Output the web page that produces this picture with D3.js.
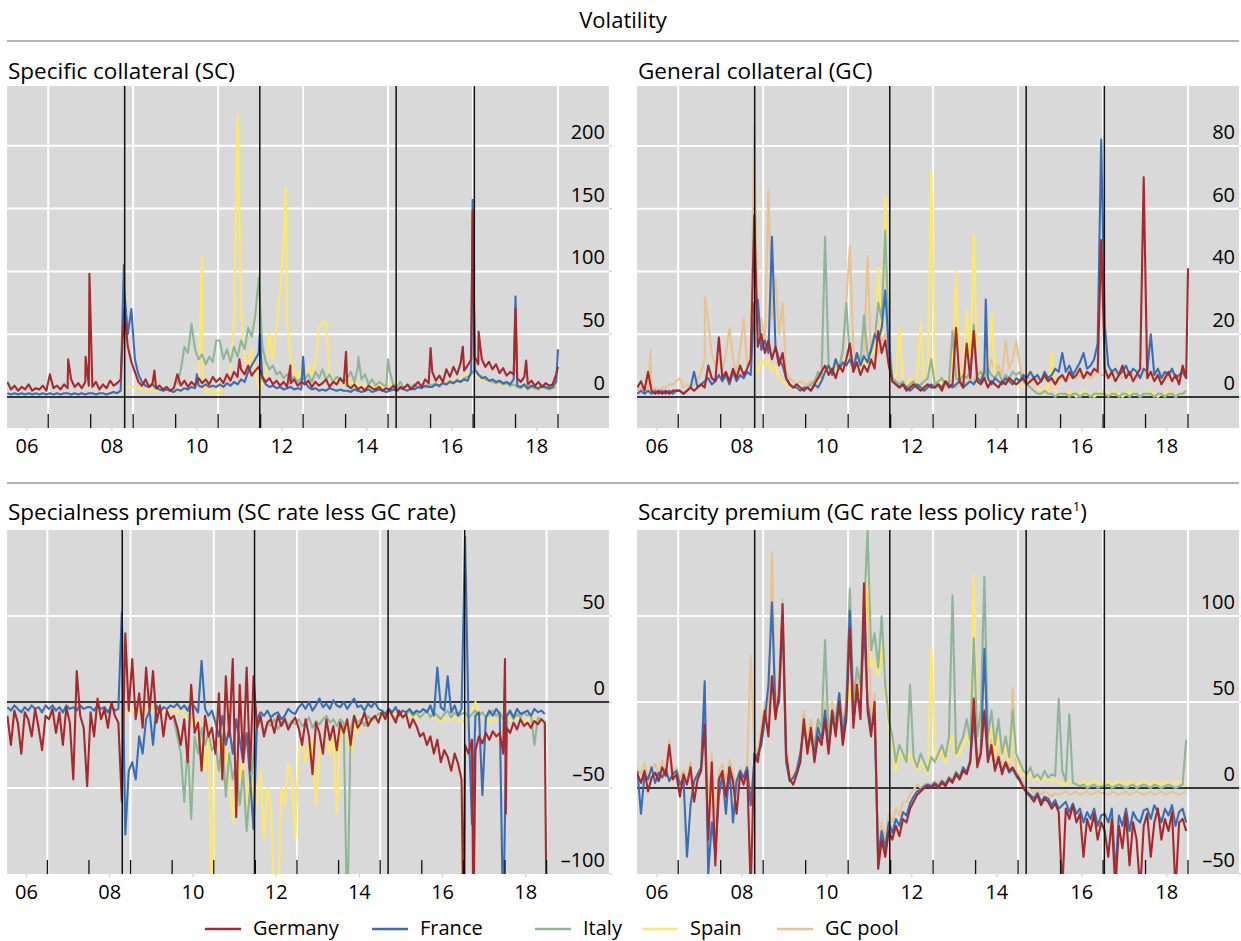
<!DOCTYPE html>
<html>
<head>
<meta charset="utf-8">
<script src="https://cdn.jsdelivr.net/npm/d3@7"></script>
<style>
body { margin: 0; background: #fff; }
svg text { font-family: "Open Sans", "Noto Sans", sans-serif; fill: #000; }
</style>
</head>
<body>
<svg id="chart" width="1241" height="941"></svg>
<script>
// monthly observations, first value at START, one value per month
var START = 2005.54, STEP = 1 / 12;

var countries = ["Germany", "France", "Italy", "Spain", "GC pool"];
var colors = ["#a8292c", "#3b6db4", "#8fb597", "#ffe76a", "#e8c28f"];

var eventYears = [2008.30, 2011.48, 2014.69, 2016.53];
var tickYears = [2006.5, 2007.5, 2008.5, 2009.5, 2010.5, 2011.5, 2012.5, 2013.5, 2014.5, 2015.5, 2016.5, 2017.5, 2018.5];
var gridYears = [2006.5, 2008.5, 2010.5, 2012.5, 2014.5, 2016.5, 2018.5];
var labelYears = [2006, 2008, 2010, 2012, 2014, 2016, 2018];
var yearLabels = ["06", "08", "10", "12", "14", "16", "18"];

var scTicks = [0, 50, 100, 150, 200];
var gcTicks = [0, 20, 40, 60, 80];
var spTicks = [-100, -50, 0, 50];
var scarTicks = [-50, 0, 50, 100];

// ---- Specific collateral (SC) volatility
var scGermany = [
 12, 6, 9, 5, 8, 6, 10, 5, 7, 6, 9, 5,
 18, 7, 9, 6, 10, 7, 14, 8, 11, 7, 12, 9,
 8, 12, 6, 10, 7, 13, 9, 11, 14, 70, 40, 28,
 20, 12, 9, 14, 8, 11, 7, 9, 6, 8, 5, 7,
 18, 9, 13, 8, 12, 9, 15, 11, 14, 10, 16, 12,
 15, 11, 18, 13, 20, 16, 22, 18, 25, 17, 21, 24,
 16, 12, 15, 10, 13, 9, 12, 8, 11, 14, 9, 12,
 10, 13, 8, 12, 9, 11, 14, 8, 12, 10, 15, 11,
 9, 7, 10, 6, 8, 5, 9, 7, 6, 8, 5, 7,
 6, 9, 5, 8, 7, 10, 6, 9, 12, 8, 14, 11,
 20, 13, 17, 12, 22, 16, 24, 18, 27, 21, 25, 30,
 32, 26, 30, 24, 28, 22, 26, 19, 23, 17, 20, 18,
 15, 12, 16, 10, 13, 9, 12, 8, 11, 9, 10, 18];
var scGermanySpikes = [[2006.97, 30], [2007.38, 32], [2007.47, 98], [2008.22, 25], [2009.0, 21], [2011.0, 30], [2012.2, 25], [2013.51, 36], [2015.5, 39], [2016.26, 40], [2016.49, 148], [2016.63, 52], [2017.5, 70], [2017.75, 29], [2018.5, 24]];
var scFrance = [
 3, 2, 3, 2, 3, 2, 3, 2, 3, 2, 3, 2,
 3, 2, 3, 2, 3, 3, 2, 3, 2, 3, 2, 3,
 3, 2, 3, 3, 2, 3, 4, 3, 5, 85, 50, 70,
 30, 18, 12, 9, 8, 10, 7, 6, 5, 6, 5, 4,
 6, 5, 7, 6, 8, 7, 9, 8, 10, 8, 9, 8,
 10, 8, 11, 9, 12, 10, 14, 12, 20, 25, 30, 35,
 15, 10, 8, 9, 7, 8, 6, 7, 8, 6, 7, 6,
 12, 8, 6, 7, 5, 6, 5, 7, 6, 5, 6, 5,
 5, 4, 6, 5, 4, 5, 6, 4, 5, 6, 5, 4,
 5, 6, 5, 7, 6, 5, 7, 6, 8, 7, 9, 8,
 8, 10, 9, 11, 10, 12, 11, 13, 12, 14, 13, 20,
 22, 18, 15, 16, 13, 14, 12, 13, 11, 12, 10, 14,
 9, 8, 10, 7, 9, 8, 7, 9, 8, 7, 8, 12];
var scFranceSpikes = [[2008.28, 105], [2010.0, 18], [2011.48, 50], [2012.5, 32], [2016.49, 157], [2017.5, 80], [2018.5, 38]];
var scItalyStart = 2009.54;
var scItaly = [
 10, 22, 40, 35, 58, 38, 30, 34, 26, 32, 28, 45,
 45, 30, 38, 28, 40, 32, 45, 38, 55, 48, 65, 95,
 40, 28, 22, 25, 18, 20, 15, 18, 14, 16, 12, 15,
 14, 18, 12, 20, 15, 22, 14, 18, 12, 16, 14, 12,
 15, 20, 12, 24, 14, 18, 10, 14, 9, 12, 10, 8,
 20, 10, 8, 12, 7, 9, 8, 10, 7, 9, 8, 10,
 9, 11, 8, 12, 10, 13, 11, 14, 12, 15, 16, 18,
 22, 18, 16, 14, 13, 12, 11, 12, 10, 11, 9, 10,
 8, 7, 9, 6, 8, 7, 6, 8, 7, 6, 7, 8];
var scItalySpikes = [[2013.8, 32], [2014.5, 30]];
var scSpainStart = 2008.29;
var scSpain = [
 8, 8, 8,
 8, 7, 6, 6, 5, 6, 5, 6, 5, 6, 5, 6,
 6, 7, 6, 8, 7, 9, 12, 20, 3, 8, 2, 5,
 2, 10, 15, 22, 60, 225, 70, 30, 25, 38, 20, 6,
 10, 20, 50, 30, 55, 85, 120, 60, 30, 20, 15, 22,
 15, 25, 18, 28, 55, 60, 58, 20, 15, 12, 14, 10,
 10, 12, 9, 11, 8, 10, 7, 9, 8, 10, 8, 9,
 10, 8, 12, 9, 7, 8, 6, 8, 7, 9, 8, 10,
 9, 11, 10, 12, 11, 13, 12, 14, 15, 16, 18, 20,
 18, 15, 14, 12, 13, 11, 12, 10, 11, 9, 10, 9,
 8, 9, 7, 8, 6, 7, 8, 6, 7, 8, 6, 9];
var scSpainSpikes = [[2010.12, 112], [2012.09, 167]];

// ---- General collateral (GC) volatility
var gcPool = [
 2, 3, 2, 3, 2, 3, 2, 3, 3, 4, 4, 5,
 6, 3, 4, 3, 4, 5, 8, 12, 24, 14, 10, 12,
 8, 14, 22, 12, 8, 15, 25, 10, 12, 86, 20, 25,
 18, 66, 25, 38, 20, 30, 8, 6, 5, 4, 5, 4,
 4, 5, 4, 6, 5, 8, 10, 8, 12, 9, 14, 30,
 48, 15, 12, 10, 14, 45, 12, 16, 14, 18, 20, 15,
 6, 5, 4, 5, 4, 3, 4, 3, 4, 3, 4, 3,
 4, 3, 4, 3, 5, 4, 3, 4, 5, 4, 6, 5,
 8, 6, 10, 7, 12, 8, 10, 7, 18, 9, 12, 18,
 10, 6, 5, 6, 5, 6, 5, 6, 5, 6, 5, 6,
 6, 5, 6, 7, 6, 7, 6, 7, 6, 7, 8, 7,
 7, 6, 7, 8, 7, 6, 7, 8, 7, 6, 7, 8,
 7, 8, 6, 7, 8, 7, 6, 8, 7, 6, 7, 7];
var gcPoolSpikes = [[2005.85, 15], [2007.13, 32]];
var gcGermany = [
 3, 5, 2, 8, 2, 1, 2, 1, 2, 1, 2, 2,
 2, 1, 2, 3, 2, 3, 4, 3, 10, 6, 5, 19,
 6, 8, 5, 9, 6, 10, 7, 9, 12, 58, 16, 20,
 14, 18, 12, 16, 10, 14, 6, 4, 3, 4, 3, 2,
 3, 2, 4, 6, 8, 10, 7, 9, 6, 10, 8, 12,
 17, 8, 11, 7, 10, 8, 12, 9, 21, 14, 18, 10,
 5, 4, 3, 4, 2, 3, 4, 3, 2, 3, 4, 3,
 3, 4, 2, 5, 3, 4, 22, 5, 3, 17, 6, 21,
 5, 4, 6, 3, 5, 4, 3, 5, 4, 6, 5, 4,
 5, 6, 4, 5, 6, 4, 5, 7, 5, 6, 4, 6,
 7, 5, 8, 6, 7, 9, 6, 8, 7, 9, 8, 50,
 9, 6, 8, 5, 7, 10, 6, 8, 5, 7, 9, 70,
 6, 8, 5, 7, 4, 6, 8, 5, 7, 4, 10, 6];
var gcGermanySpikes = [[2018.5, 41]];
var gcFrance = [
 1, 2, 1, 2, 1, 2, 1, 2, 1, 2, 1, 2,
 2, 1, 2, 3, 8, 3, 4, 5, 6, 4, 5, 7,
 5, 7, 4, 8, 5, 7, 6, 8, 7, 30, 31, 15,
 18, 14, 51, 16, 12, 10, 6, 4, 3, 3, 2, 3,
 3, 2, 4, 3, 5, 8, 10, 7, 12, 9, 11, 10,
 12, 9, 14, 10, 13, 11, 15, 20, 18, 22, 34, 15,
 5, 4, 3, 4, 3, 2, 3, 4, 3, 2, 3, 4,
 3, 4, 3, 5, 4, 3, 4, 5, 3, 4, 5, 4,
 6, 5, 8, 6, 4, 6, 5, 4, 6, 5, 4, 6,
 5, 7, 6, 8, 6, 7, 5, 8, 6, 7, 9, 8,
 14, 8, 10, 7, 9, 11, 14, 9, 10, 12, 17, 82,
 23, 10, 8, 9, 7, 8, 10, 7, 9, 8, 6, 9,
 8, 20, 7, 9, 6, 8, 7, 9, 6, 7, 8, 6];
var gcFranceSpikes = [[2013.74, 31]];
var gcItalyStart = 2009.54;
var gcItaly = [
 3, 4, 5, 8, 6, 51, 10, 8, 12, 9, 15, 30,
 12, 10, 14, 11, 26, 13, 15, 18, 30, 25, 53, 20,
 6, 5, 4, 5, 3, 4, 5, 3, 4, 5, 6, 12,
 4, 5, 6, 4, 5, 21, 6, 5, 7, 6, 8, 23,
 7, 8, 6, 9, 7, 6, 8, 5, 7, 6, 8, 7,
 8, 5, 4, 3, 2, 1, 1, 2, 1, 1, 0, 1,
 1, 1, 0, 1, 1, 0, 1, 1, 0, 1, 1, 1,
 1, 0, 1, 1, 0, 1, 1, 0, 1, 1, 0, 1,
 1, 1, 0, 1, 1, 0, 1, 1, 0, 1, 1, 2];
var gcSpainStart = 2008.29;
var gcSpain = [
 10, 8, 12,
 10, 12, 8, 10, 6, 5, 4, 3, 3, 2, 3, 2,
 3, 2, 4, 5, 6, 8, 7, 9, 8, 10, 9, 10,
 12, 10, 11, 9, 12, 10, 13, 15, 41, 20, 64, 15,
 8, 6, 22, 5, 4, 6, 5, 4, 24, 5, 6, 72,
 5, 6, 4, 5, 7, 6, 40, 5, 8, 28, 10, 52,
 8, 7, 6, 5, 27, 6, 5, 4, 5, 6, 4, 5,
 4, 3, 4, 3, 2, 3, 2, 3, 2, 14, 2, 1,
 1, 1, 2, 1, 0, 1, 2, 1, 1, 0, 1, 2,
 2, 1, 1, 2, 1, 0, 1, 2, 1, 1, 0, 1,
 1, 2, 1, 0, 1, 1, 2, 1, 0, 1, 1, 2];

// ---- Specialness premium (SC rate less GC rate)
var spGermany = [
 -8, -25, -5, -12, -30, -6, -10, -20, -4, -15, -28, -8,
 -10, -4, -18, -6, -25, -3, -12, -45, 18, -8, -15, -49,
 -6, -20, 2, -10, -4, -15, 0, -8, -12, -58, 40, -5,
 25, -10, 5, -15, 20, -5, 18, -12, -2, -20, -5, -10,
 -8, -15, -25, -10, -35, 10, -18, -12, -40, -8, -20, -15,
 -30, 5, -45, 15, -20, 25, -67, 10, -35, 20, -40, 15,
 -15, -8, -20, -12, -10, -18, -8, -14, -10, -16, -12, -9,
 -15, -25, -10, -20, -42, -12, -18, -30, -10, -22, -14, -28,
 -12, -18, -10, -25, -8, -15, -12, -6, -14, -10, -8, -12,
 -6, -10, -4, -8, -12, -5, -9, -7, -15, -10, -14, -20,
 -18, -25, -20, -30, -22, -35, -28, -32, -40, -30, -36, -45,
 -25, -30, -22, -28, -20, -24, -18, -22, -17, -20, -18, -30,
 -15, -18, -12, -16, -10, -14, -12, -15, -11, -13, -10, -12];
var spGermanySpikes = [[2016.5, -130], [2016.74, -130], [2017.5, 25], [2017.52, -65], [2018.5, -130]];
var spFrance = [
 -3, -5, -2, -4, -6, -3, -5, -2, -4, -3, -6, -2,
 -4, -2, -5, -3, -6, -2, -4, -3, -5, -2, -4, -3,
 -3, -5, -2, -4, -3, -6, -2, -5, -4, 52, -77, -40,
 -35, -45, -20, -30, -10, -5, -25, -2, -6, -3, -4, -2,
 -3, -1, -4, -2, -5, 0, -3, -6, 24, -4, -8, -5,
 -12, -20, -8, -25, -15, -30, -10, -22, -35, -18, -45, -74,
 -10, -6, -8, -5, -9, -7, -6, -10, -8, -4, -6, -7,
 -3, -1, -4, 0, -5, -2, 2, -3, -1, -4, 1, -2,
 -3, 0, -4, -1, 2, -3, -2, -5, -1, -3, 0, -4,
 -5, -7, -4, -6, -3, -8, -5, -6, -4, -7, -5, -6,
 -4, -6, -2, -8, 20, -3, -5, 15, -6, -2, -8, -4,
 96, -10, -71, -8, -6, -54, -9, -5, -8, -4, -7, -130,
 -8, -5, -9, -4, -7, -6, -5, -8, -4, -6, -5, -7];
var spItalyStart = 2009.54;
var spItaly = [
 -10, -20, -30, -58, -25, -68, -20, -30, -15, -25, -18, -28,
 -25, -40, -20, -55, -30, -45, -35, -60, -40, -75, -50, -30,
 -15, -10, -18, -12, -14, -10, -16, -12, -9, -14, -11, -13,
 -10, -14, -12, -9, -15, -11, -13, -10, -8, -12, -10, -14,
 -10, -12, -130, -15, -8, -12, -10, -14, -8, -11, -9, -7,
 -6, -9, -5, -8, -10, -6, -9, -7, -5, -8, -6, -9,
 -7, -5, -9, -6, -8, -10, -7, -5, -9, -6, -8, -7,
 -6, -9, -7, -5, -8, -6, -9, -7, -5, -8, -6, -10,
 -8, -6, -10, -7, -9, -6, -8, -7, -25, -9, -10, -12];
var spSpainStart = 2008.29;
var spSpain = [
 -5, -4, -6,
 -5, -4, -6, -5, -4, -6, -5, -4, -5, -6, -4, -5,
 -5, -6, -4, -8, -10, -8, -15, -10, -20, -40, -15, -130,
 -30, -20, -45, -25, -50, -70, -35, -45, -30, -60, -40, -55,
 -60, -40, -80, -50, -60, -130, -130, -50, -60, -35, -45, -80,
 -30, -20, -35, -25, -22, -60, -30, -25, -22, -30, -20, -65,
 -15, -20, -12, -35, -10, -18, -8, -15, -10, -12, -8, -10,
 -8, -10, -6, -9, -7, -8, -6, -9, -7, -8, -10, -6,
 -8, -6, -9, -10, -8, -12, -9, -11, -10, -8, -12, -10,
 -12, -8, -5, 0, -6, -10, -8, -12, -9, -11, -10, -8,
 -9, -11, -8, -10, -9, -12, -10, -8, -11, -9, -10, -12];

// ---- Scarcity premium (GC rate less policy rate)
var scarGermany = [
 8, 3, 10, -2, 6, 9, 4, 12, 7, 25, 5, 8,
 -5, 8, 2, 12, -8, 5, 10, 37, -30, 15, -45, 5,
 10, -5, 12, 4, -15, 8, 2, 10, -60, 20, 15, 30,
 45, 30, 65, 40, 55, 107, 20, 5, 2, 8, 15, 40,
 20, 35, 15, 30, 25, 40, 20, 45, 30, 50, 25, 40,
 93, 35, 60, 40, 119, 45, 30, 50, -47, -30, -40, -25,
 -30, -22, -28, -18, -20, -12, -8, -4, -2, 0, 1, 0,
 2, 0, 3, 1, 5, 3, 8, 5, 10, 8, 15, 52,
 12, 20, 45, 15, 25, 10, 18, 8, 15, 10, 12, 8,
 5, 0, -3, -5, -8, -4, -10, -6, -8, -12, -9, -14,
 -60, -12, -18, -10, -20, -15, -40, -18, -25, -15, -30, -20,
 -25, -40, -18, -60, -22, -35, -15, -45, -20, -30, -60, -22,
 -15, -40, -20, -12, -30, -18, -25, -14, -60, -20, -18, -25];
var scarFrance = [
 10, -15, 8, 5, 12, 3, 9, 6, 11, 4, 8, 10,
 2, 6, -40, -10, 4, 8, 12, 62, -50, -20, -38, -5,
 8, -15, 12, -20, 4, 10, 6, 12, -10, 15, 20, 25,
 40, 60, 108, 45, 50, 100, 15, 4, 6, 10, 20, 35,
 25, 30, 20, 35, 28, 45, 22, 40, 35, 55, 30, 45,
 103, 40, 55, 45, 95, 50, 35, 40, -40, -25, -35, -20,
 -26, -18, -22, -14, -16, -9, -5, -2, -1, 1, 2, 1,
 3, 1, 4, 2, 6, 4, 9, 6, 12, 9, 16, 40,
 14, 20, 81, 18, 22, 12, 16, 10, 14, 9, 11, 7,
 4, 1, -2, -4, -6, -3, -8, -5, -6, -10, -7, -12,
 -10, -8, -14, -9, -15, -12, -20, -14, -18, -12, -22, -16,
 -15, -20, -12, -50, -16, -22, -12, -25, -14, -18, -20, -13,
 -12, -18, -10, -14, -20, -12, -16, -10, -22, -14, -12, -20];
var scarItalyStart = 2009.54;
var scarItaly = [
 20, 30, 25, 40, 35, 86, 30, 45, 40, 55, 35, 50,
 116, 50, 70, 60, 100, 150, 80, 90, 70, 100, 60, 40,
 30, 15, 25, 20, 15, 60, 18, 12, 20, 15, 10, 18,
 15, 20, 25, 18, 30, 112, 20, 25, 30, 40, 28, 87,
 30, 45, 123, 30, 45, 25, 40, 20, 30, 18, 45, 20,
 15, 10, 8, 12, 6, 8, 5, 10, 6, 8, 7, 52,
 10, 4, 43, 3, 2, 1, 2, 0, 1, 2, 0, 1,
 1, 2, 0, 1, 2, 1, 0, 1, 2, 0, 1, 2,
 1, 0, 2, 1, 0, 1, 2, 1, 0, 1, 2, 28];
var scarSpainStart = 2009.54;
var scarSpain = [
 20, 25, 22, 30, 28, 40, 25, 42, 32, 50, 30, 45,
 60, 45, 55, 50, 80, 132, 70, 75, 65, 85, 55, 35,
 25, 10, 22, 18, 15, 20, 16, 10, 15, 12, 8, 81,
 15, 18, 22, 15, 25, 30, 18, 20, 25, 30, 25, 124,
 28, 40, 70, 25, 35, 20, 30, 18, 25, 15, 36, 18,
 12, 8, 6, 8, 5, 6, 4, 6, 5, 4, 5, 3,
 3, 2, 4, 3, 2, 3, 4, 2, 3, 4, 3, 2,
 3, 4, 2, 3, 4, 3, 2, 4, 3, 2, 3, 4,
 3, 2, 4, 3, 2, 4, 3, 2, 3, 4, 3, 2];
var scarPool = [
 12, 8, 15, 6, 10, 14, 8, 16, 10, 28, 9, 12,
 6, 10, 5, 15, 2, 8, 12, 40, -10, 20, -20, 10,
 14, 5, 16, 8, 0, 12, 6, 14, 77, 25, 20, 35,
 50, 40, 137, 50, 60, 110, 25, 8, 6, 12, 20, 45,
 28, 40, 22, 38, 32, 50, 28, 50, 38, 55, 32, 48,
 100, 45, 65, 50, 90, 120, 40, 55, -35, -20, -30, -15,
 -20, -12, -16, -8, -8, -4, -1, 2, 0, 2, 3, 2,
 4, 2, 5, 3, 7, 5, 10, 7, 12, 10, 17, 45,
 16, 25, 40, 20, 28, 14, 20, 12, 16, 12, 58, 10,
 6, 3, 0, -1, -3, -1, -4, -2, -3, -5, -3, -4,
 -3, -2, -4, -3, -2, -4, -3, -2, -4, -3, -2, -3,
 -3, -4, -2, -3, -4, -3, -2, -4, -3, -2, -3, -4,
 -3, -2, -4, -3, -2, -4, -3, -2, -3, -4, -3, -2];

var legendX = [205, 372, 535, 642, 777];

var panels = [
  {title: ["Specific collateral (SC)"], left: 7, top: 86, width: 602, height: 342,
   xDom: [2005.53, 2019.70], yDom: [-24.7, 247.6], yTicks: scTicks,
   series: [
     {name: "Spain", start: scSpainStart, values: scSpain, spikes: scSpainSpikes},
     {name: "Italy", start: scItalyStart, values: scItaly, spikes: scItalySpikes},
     {name: "France", start: START, values: scFrance, spikes: scFranceSpikes},
     {name: "Germany", start: START, values: scGermany, spikes: scGermanySpikes}]},
  {title: ["General collateral (GC)"], left: 637, top: 86, width: 602, height: 342,
   xDom: [2005.53, 2019.70], yDom: [-9.9, 99.1], yTicks: gcTicks,
   series: [
     {name: "GC pool", start: START, values: gcPool, spikes: gcPoolSpikes},
     {name: "Spain", start: gcSpainStart, values: gcSpain},
     {name: "Italy", start: gcItalyStart, values: gcItaly},
     {name: "France", start: START, values: gcFrance, spikes: gcFranceSpikes},
     {name: "Germany", start: START, values: gcGermany, spikes: gcGermanySpikes}]},
  {title: ["Specialness premium (SC rate less GC rate)"], left: 7, top: 530, width: 602, height: 344,
   xDom: [2005.53, 2020.0], yDom: [-100, 100], yTicks: spTicks,
   series: [
     {name: "Spain", start: spSpainStart, values: spSpain},
     {name: "Italy", start: spItalyStart, values: spItaly},
     {name: "France", start: START, values: spFrance},
     {name: "Germany", start: START, values: spGermany, spikes: spGermanySpikes}]},
  {title: ["Scarcity premium (GC rate less policy rate", "1", ")"], left: 637, top: 530, width: 602, height: 344,
   xDom: [2005.53, 2019.70], yDom: [-50, 150], yTicks: scarTicks,
   series: [
     {name: "GC pool", start: START, values: scarPool},
     {name: "Spain", start: scarSpainStart, values: scarSpain},
     {name: "Italy", start: scarItalyStart, values: scarItaly},
     {name: "France", start: START, values: scarFrance},
     {name: "Germany", start: START, values: scarGermany}]}
];

function toPoints(s) {
  var pts = s.values.map(function(v, i){ return [s.start + i * STEP, v]; });
  (s.spikes || []).forEach(function(p){ pts.push(p); });
  pts.sort(function(a, b){ return a[0] - b[0]; });
  return pts;
}

function fmt(v) { return v < 0 ? "\u2013" + Math.abs(v) : String(v); }

var svg = d3.select("#chart");

svg.append("text").attr("x", 623).attr("y", 28)
  .attr("text-anchor", "middle").style("font-size", "22px").text("Volatility");
svg.append("line").attr("x1", 7).attr("x2", 1239).attr("y1", 41).attr("y2", 41)
  .attr("stroke", "#b4b4b4").attr("stroke-width", 2);
svg.append("line").attr("x1", 7).attr("x2", 1239).attr("y1", 483).attr("y2", 483)
  .attr("stroke", "#b4b4b4").attr("stroke-width", 2);

panels.forEach(function(p, k){
  var g = svg.append("g").attr("transform", "translate(" + p.left + "," + p.top + ")");
  var x = d3.scaleLinear().domain(p.xDom).range([0, p.width]);
  var y = d3.scaleLinear().domain(p.yDom).range([p.height, 0]);

  var t = svg.append("text").attr("x", p.left + 1).attr("y", p.top - (k < 2 ? 7 : 10))
    .style("font-size", "22.5px");
  t.append("tspan").text(p.title[0]);
  if (p.title.length > 1) {
    t.append("tspan").attr("baseline-shift", "super").style("font-size", "13px").text(p.title[1]);
    t.append("tspan").text(p.title[2]);
  }

  g.append("clipPath").attr("id", "clip" + k)
    .append("rect").attr("width", p.width).attr("height", p.height);
  g.append("rect").attr("width", p.width).attr("height", p.height).attr("fill", "#d9d9d9");

  // white grid
  g.selectAll(".vg").data(gridYears).enter().append("line")
    .attr("x1", x).attr("x2", x).attr("y1", 0).attr("y2", p.height)
    .attr("stroke", "#fff").attr("stroke-width", 2);
  g.selectAll(".hg").data(p.yTicks.filter(function(v){ return v !== 0 && y(v) < p.height - 2; }))
    .enter().append("line")
    .attr("x1", 0).attr("x2", p.width).attr("y1", y).attr("y2", y)
    .attr("stroke", "#fff").attr("stroke-width", 2);

  // small light ticks outside the frame
  g.selectAll(".lt").data(labelYears).enter().append("line")
    .attr("x1", x).attr("x2", x).attr("y1", p.height).attr("y2", p.height + 3)
    .attr("stroke", "#c8c8c8").attr("stroke-width", 1);
  g.selectAll(".rt").data(p.yTicks).enter().append("line")
    .attr("x1", p.width).attr("x2", p.width + 3).attr("y1", y).attr("y2", y)
    .attr("stroke", "#c8c8c8").attr("stroke-width", 1);

  var line = d3.line().x(function(d){ return x(d[0]); }).y(function(d){ return y(d[1]); });
  var plot = g.append("g").attr("clip-path", "url(#clip" + k + ")");

  plot.append("line").attr("x1", 0).attr("x2", p.width).attr("y1", y(0)).attr("y2", y(0))
    .attr("stroke", "#000").attr("stroke-width", 1.5);

  p.series.forEach(function(s){
    plot.append("path").datum(toPoints(s)).attr("d", line)
      .attr("fill", "none").attr("stroke", colors[countries.indexOf(s.name)])
      .attr("stroke-width", 2.1).attr("stroke-linejoin", "round");
  });

  plot.selectAll(".ev").data(eventYears).enter().append("line")
    .attr("x1", x).attr("x2", x).attr("y1", 0).attr("y2", p.height)
    .attr("stroke", "#111").attr("stroke-width", 1.5);

  g.selectAll(".tk").data(tickYears).enter().append("line")
    .attr("x1", x).attr("x2", x).attr("y1", p.height - 14).attr("y2", p.height)
    .attr("stroke", "#111").attr("stroke-width", 1.3);

  g.selectAll(".yl").data(p.yTicks).enter().append("text")
    .attr("x", p.width - 4).attr("y", function(v){ return y(v) - 7; })
    .attr("text-anchor", "end").style("font-size", "20px").text(fmt);

  g.selectAll(".xl").data(labelYears).enter().append("text")
    .attr("x", x).attr("y", p.height + 25)
    .attr("text-anchor", "middle").style("font-size", "20px")
    .text(function(d, i){ return yearLabels[i]; });
});

// legend
var lg = svg.append("g");
countries.forEach(function(c, i){
  lg.append("line").attr("x1", legendX[i]).attr("x2", legendX[i] + 36)
    .attr("y1", 929).attr("y2", 929).attr("stroke", colors[i]).attr("stroke-width", 2.5);
  lg.append("text").attr("x", legendX[i] + 48).attr("y", 935)
    .style("font-size", "20px").text(c);
});
</script>
</body>
</html>
